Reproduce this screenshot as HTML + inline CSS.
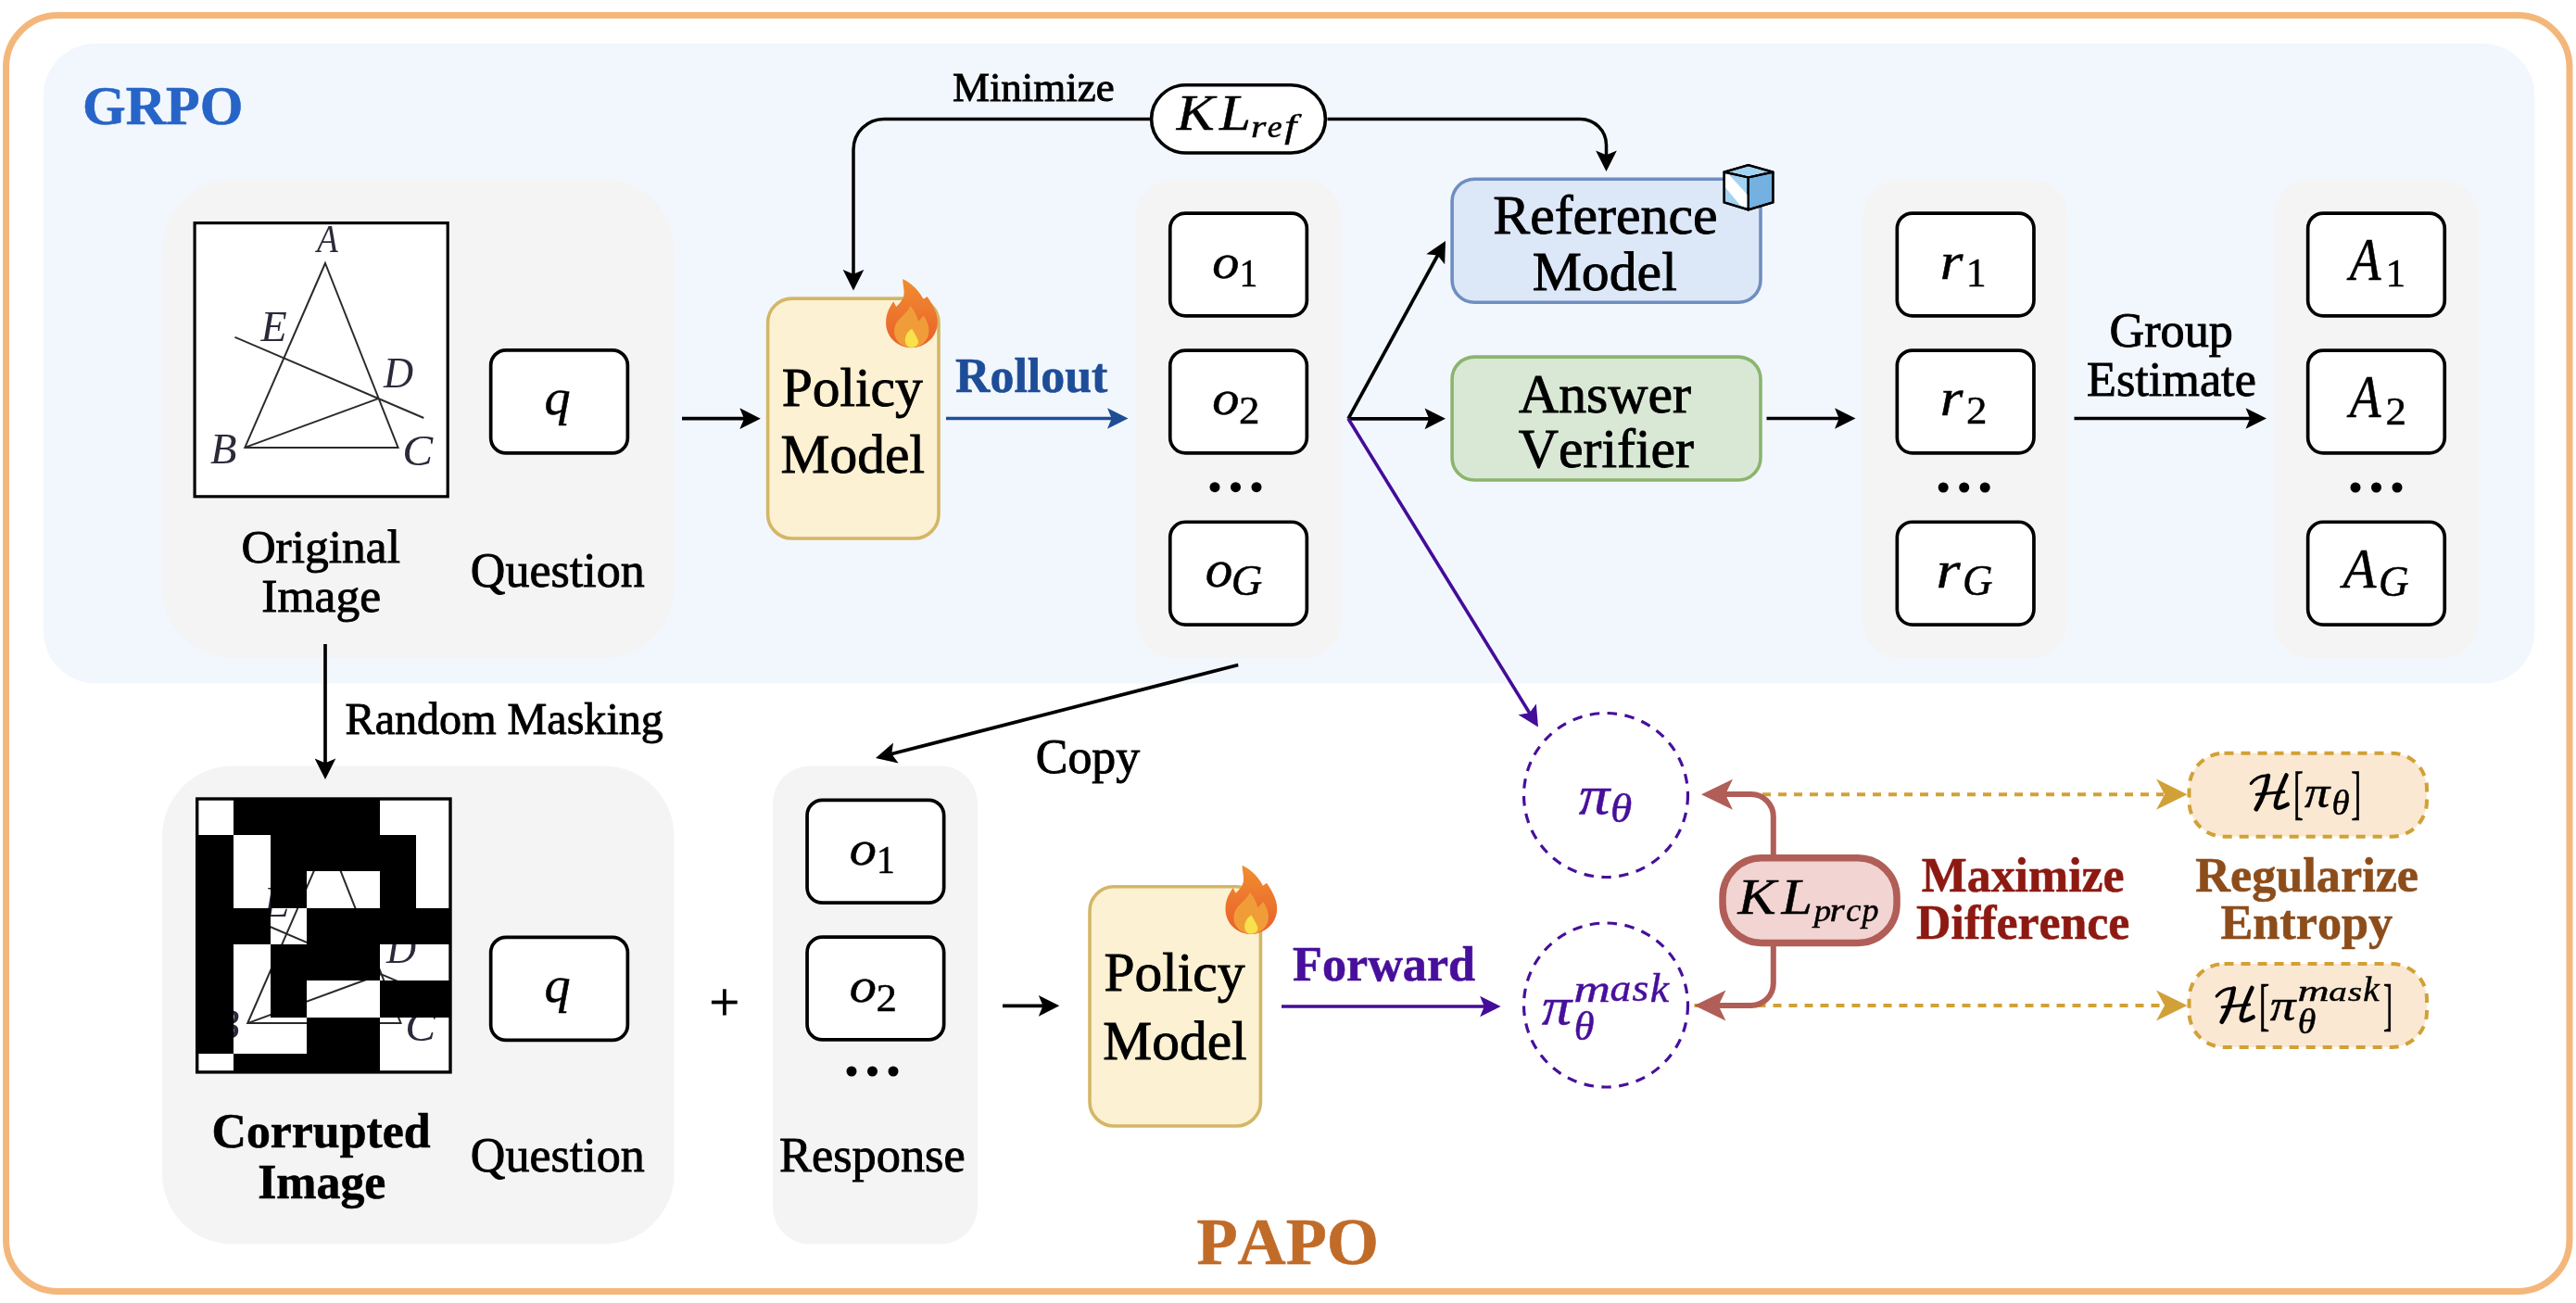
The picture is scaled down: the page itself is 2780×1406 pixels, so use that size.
<!DOCTYPE html>
<html><head><meta charset="utf-8"><style>
html,body{margin:0;padding:0;background:#fff;}
svg{display:block;will-change:transform;}
text{font-family:"Liberation Serif", serif;font-kerning:none;}
</style></head><body>
<svg width="2780" height="1406" viewBox="0 0 2780 1406">
<rect x="0" y="0" width="2780" height="1406" fill="#fff"/>
<rect x="6.50" y="16.50" width="2766.50" height="1377.00" rx="56.00" fill="none" stroke="#F4B77B" stroke-width="7" />
<rect x="47.00" y="47.00" width="2688.50" height="690.50" rx="56.00" fill="#F2F7FE"/>
<rect x="175.00" y="193.50" width="552.50" height="516.50" rx="76.00" fill="#F4F4F4"/>
<rect x="1226.00" y="193.50" width="221.50" height="516.50" rx="40.00" fill="#F4F4F4"/>
<rect x="2010.50" y="193.50" width="221.00" height="517.00" rx="40.00" fill="#F4F4F4"/>
<rect x="2453.50" y="193.50" width="221.50" height="517.00" rx="40.00" fill="#F4F4F4"/>
<rect x="175.00" y="826.50" width="552.50" height="516.00" rx="76.00" fill="#F4F4F4"/>
<rect x="834.00" y="826.50" width="221.00" height="516.00" rx="40.00" fill="#F4F4F4"/>
<text x="89.07" y="134.40" font-size="60.01" font-weight="bold" font-style="normal" fill="#2764C7" stroke="#2764C7" stroke-width="0.6" >GRPO</text>
<text x="1291.47" y="1364.00" font-size="72.22" font-weight="bold" font-style="normal" fill="#C16B29" stroke="#C16B29" stroke-width="0.6" >PAPO</text>
<rect x="210.10" y="240.60" width="273.10" height="295.20" rx="0.00" fill="#fff" stroke="#000" stroke-width="3.2" />
<g transform="translate(0.00,0.00)"><path d="M351,284 L264.3,482.9 L429.6,482.9 Z M264.3,482.9 L408.2,430.1 M253.5,363.8 L457.3,451" fill="none" stroke="#2a2a2a" stroke-width="2" stroke-linejoin="miter"/>
<text transform="matrix(0.3737 0 0 0.4272 342.04 271.70)" font-size="100" font-weight="normal" font-style="italic" fill="#2a2a3a" stroke="#2a2a3a" stroke-width="0.000">A</text>
<text transform="matrix(0.4617 0 0 0.4689 281.54 367.50)" font-size="100" font-weight="normal" font-style="italic" fill="#2a2a3a" stroke="#2a2a3a" stroke-width="0.000">E</text>
<text transform="matrix(0.4441 0 0 0.4690 414.10 417.71)" font-size="100" font-weight="normal" font-style="italic" fill="#2a2a3a" stroke="#2a2a3a" stroke-width="0.000">D</text>
<text transform="matrix(0.4658 0 0 0.4652 227.07 499.86)" font-size="100" font-weight="normal" font-style="italic" fill="#2a2a3a" stroke="#2a2a3a" stroke-width="0.000">B</text>
<text transform="matrix(0.4931 0 0 0.4677 434.26 501.57)" font-size="100" font-weight="normal" font-style="italic" fill="#2a2a3a" stroke="#2a2a3a" stroke-width="0.000">C</text>
</g>
<rect x="211.00" y="860.30" width="276.70" height="298.30" rx="0.00" fill="#fff"/>
<g transform="translate(2.90,621.20)"><path d="M351,284 L264.3,482.9 L429.6,482.9 Z M264.3,482.9 L408.2,430.1 M253.5,363.8 L457.3,451" fill="none" stroke="#2a2a2a" stroke-width="2" stroke-linejoin="miter"/>
<text transform="matrix(0.3737 0 0 0.4272 342.04 271.70)" font-size="100" font-weight="normal" font-style="italic" fill="#2a2a3a" stroke="#2a2a3a" stroke-width="0.000">A</text>
<text transform="matrix(0.4617 0 0 0.4689 281.54 367.50)" font-size="100" font-weight="normal" font-style="italic" fill="#2a2a3a" stroke="#2a2a3a" stroke-width="0.000">E</text>
<text transform="matrix(0.4441 0 0 0.4690 414.10 417.71)" font-size="100" font-weight="normal" font-style="italic" fill="#2a2a3a" stroke="#2a2a3a" stroke-width="0.000">D</text>
<text transform="matrix(0.4658 0 0 0.4652 227.07 499.86)" font-size="100" font-weight="normal" font-style="italic" fill="#2a2a3a" stroke="#2a2a3a" stroke-width="0.000">B</text>
<text transform="matrix(0.4931 0 0 0.4677 434.26 501.57)" font-size="100" font-weight="normal" font-style="italic" fill="#2a2a3a" stroke="#2a2a3a" stroke-width="0.000">C</text>
</g>
<rect x="252.31" y="862.00" width="39.30" height="39.08" fill="#000" shape-rendering="crispEdges"/>
<rect x="291.61" y="862.00" width="39.30" height="39.08" fill="#000" shape-rendering="crispEdges"/>
<rect x="330.91" y="862.00" width="39.30" height="39.08" fill="#000" shape-rendering="crispEdges"/>
<rect x="370.21" y="862.00" width="39.30" height="39.08" fill="#000" shape-rendering="crispEdges"/>
<rect x="213.01" y="901.08" width="39.30" height="39.30" fill="#000" shape-rendering="crispEdges"/>
<rect x="291.61" y="901.08" width="39.30" height="39.30" fill="#000" shape-rendering="crispEdges"/>
<rect x="330.91" y="901.08" width="39.30" height="39.30" fill="#000" shape-rendering="crispEdges"/>
<rect x="370.21" y="901.08" width="39.30" height="39.30" fill="#000" shape-rendering="crispEdges"/>
<rect x="409.51" y="901.08" width="39.30" height="39.30" fill="#000" shape-rendering="crispEdges"/>
<rect x="213.01" y="940.38" width="39.30" height="39.30" fill="#000" shape-rendering="crispEdges"/>
<rect x="291.61" y="940.38" width="39.30" height="39.30" fill="#000" shape-rendering="crispEdges"/>
<rect x="409.51" y="940.38" width="39.30" height="39.30" fill="#000" shape-rendering="crispEdges"/>
<rect x="213.01" y="979.68" width="39.30" height="39.30" fill="#000" shape-rendering="crispEdges"/>
<rect x="252.31" y="979.68" width="39.30" height="39.30" fill="#000" shape-rendering="crispEdges"/>
<rect x="330.91" y="979.68" width="39.30" height="39.30" fill="#000" shape-rendering="crispEdges"/>
<rect x="370.21" y="979.68" width="39.30" height="39.30" fill="#000" shape-rendering="crispEdges"/>
<rect x="409.51" y="979.68" width="39.30" height="39.30" fill="#000" shape-rendering="crispEdges"/>
<rect x="448.81" y="979.68" width="37.19" height="39.30" fill="#000" shape-rendering="crispEdges"/>
<rect x="213.01" y="1018.98" width="39.30" height="39.30" fill="#000" shape-rendering="crispEdges"/>
<rect x="291.61" y="1018.98" width="39.30" height="39.30" fill="#000" shape-rendering="crispEdges"/>
<rect x="330.91" y="1018.98" width="39.30" height="39.30" fill="#000" shape-rendering="crispEdges"/>
<rect x="370.21" y="1018.98" width="39.30" height="39.30" fill="#000" shape-rendering="crispEdges"/>
<rect x="213.01" y="1058.28" width="39.30" height="39.30" fill="#000" shape-rendering="crispEdges"/>
<rect x="291.61" y="1058.28" width="39.30" height="39.30" fill="#000" shape-rendering="crispEdges"/>
<rect x="409.51" y="1058.28" width="39.30" height="39.30" fill="#000" shape-rendering="crispEdges"/>
<rect x="448.81" y="1058.28" width="37.19" height="39.30" fill="#000" shape-rendering="crispEdges"/>
<rect x="213.01" y="1097.58" width="39.30" height="39.30" fill="#000" shape-rendering="crispEdges"/>
<rect x="330.91" y="1097.58" width="39.30" height="39.30" fill="#000" shape-rendering="crispEdges"/>
<rect x="370.21" y="1097.58" width="39.30" height="39.30" fill="#000" shape-rendering="crispEdges"/>
<rect x="252.31" y="1136.88" width="39.30" height="20.12" fill="#000" shape-rendering="crispEdges"/>
<rect x="291.61" y="1136.88" width="39.30" height="20.12" fill="#000" shape-rendering="crispEdges"/>
<rect x="330.91" y="1136.88" width="39.30" height="20.12" fill="#000" shape-rendering="crispEdges"/>
<rect x="370.21" y="1136.88" width="39.30" height="20.12" fill="#000" shape-rendering="crispEdges"/>
<rect x="212.70" y="862.00" width="273.30" height="294.90" rx="0.00" fill="none" stroke="#000" stroke-width="3.4" />
<rect x="529.65" y="377.85" width="147.70" height="111.10" rx="16.50" fill="#fff" stroke="#000" stroke-width="3.7" />
<rect x="529.65" y="1011.35" width="147.70" height="111.10" rx="16.50" fill="#fff" stroke="#000" stroke-width="3.7" />
<text transform="matrix(0.5616 0 0 0.5394 587.54 447.32)" font-size="100" font-weight="normal" font-style="italic" fill="#000" stroke="#000" stroke-width="0.908">q</text>
<text transform="matrix(0.5616 0 0 0.5394 587.54 1081.32)" font-size="100" font-weight="normal" font-style="italic" fill="#000" stroke="#000" stroke-width="0.908">q</text>
<text x="260.39" y="606.50" font-size="51.51" font-weight="normal" font-style="normal" fill="#000" stroke="#000" stroke-width="0.9" >Original</text>
<text x="282.37" y="660.00" font-size="51.51" font-weight="normal" font-style="normal" fill="#000" stroke="#000" stroke-width="0.9" >Image</text>
<text x="507.87" y="632.50" font-size="52.04" font-weight="normal" font-style="normal" fill="#000" stroke="#000" stroke-width="0.9" >Question</text>
<text x="507.87" y="1263.50" font-size="52.04" font-weight="normal" font-style="normal" fill="#000" stroke="#000" stroke-width="0.9" >Question</text>
<text x="228.47" y="1237.50" font-size="51.83" font-weight="bold" font-style="normal" fill="#000" stroke="#000" stroke-width="0.6" >Corrupted</text>
<text x="278.20" y="1292.50" font-size="51.83" font-weight="bold" font-style="normal" fill="#000" stroke="#000" stroke-width="0.6" >Image</text>
<text x="840.99" y="1263.50" font-size="52.39" font-weight="normal" font-style="normal" fill="#000" stroke="#000" stroke-width="0.9" >Response</text>
<text x="372.61" y="791.50" font-size="48.09" font-weight="normal" font-style="normal" fill="#000" stroke="#000" stroke-width="0.9" >Random Masking</text>
<text x="1117.87" y="833.75" font-size="51.84" font-weight="normal" font-style="normal" fill="#000" stroke="#000" stroke-width="0.9" >Copy</text>
<text x="1027.90" y="109.20" font-size="44.97" font-weight="normal" font-style="normal" fill="#000" stroke="#000" stroke-width="0.9" >Minimize</text>
<rect x="828.60" y="322.10" width="184.40" height="258.90" rx="26.00" fill="#FCF1D2" stroke="#D4B666" stroke-width="3.6" />
<rect x="1176.00" y="956.80" width="184.40" height="258.20" rx="26.00" fill="#FCF1D2" stroke="#D4B666" stroke-width="3.6" />
<text x="843.73" y="437.50" font-size="59.50" font-weight="normal" font-style="normal" fill="#000" stroke="#000" stroke-width="0.9" >Policy</text>
<text x="842.57" y="510.00" font-size="59.50" font-weight="normal" font-style="normal" fill="#000" stroke="#000" stroke-width="0.9" >Model</text>
<text x="1191.43" y="1068.80" font-size="59.50" font-weight="normal" font-style="normal" fill="#000" stroke="#000" stroke-width="0.9" >Policy</text>
<text x="1190.27" y="1142.60" font-size="59.50" font-weight="normal" font-style="normal" fill="#000" stroke="#000" stroke-width="0.9" >Model</text>
<g transform="translate(940.00,290.00) scale(1.0)">
<defs><linearGradient id="fg940" x1="0" y1="0" x2="0" y2="1"><stop offset="0" stop-color="#F08E30"/><stop offset="1" stop-color="#E95F2B"/></linearGradient></defs>
<path d="M34.2,11.1 C40,14 50,20 56.5,33 L60.6,30 C66,38 72,48 71.8,58 C71.5,74 58,85.2 43.7,85.2 C29,85.2 16.1,74 16.1,58 C16.1,48 20,42 24.2,35.3 L27.2,41 C31,37 36,33 35.6,25 C35.5,20 34,15 34.2,11.1 Z" fill="url(#fg940)"/>
<path d="M42.2,40 C47,45 50,52 51,56.8 L56.8,50.7 C60,55 62.5,61 62.5,67 C62.5,78 53,85 43.7,85 C33,85 25,77 25,68 C25,58 32,53 36,49 C39,46 41.5,43 42.2,40 Z" fill="#F09D39"/>
<path d="M44.1,64.8 C46,68 50,75 51,78 C51.5,82 48,84.8 43.7,84.8 C39,84.8 36.8,81 36.8,77 C36.8,72 40,67 44.1,64.8 Z" fill="#F8E14B"/>
</g>
<g transform="translate(1306.40,922.65) scale(1.0)">
<defs><linearGradient id="fg1306" x1="0" y1="0" x2="0" y2="1"><stop offset="0" stop-color="#F08E30"/><stop offset="1" stop-color="#E95F2B"/></linearGradient></defs>
<path d="M34.2,11.1 C40,14 50,20 56.5,33 L60.6,30 C66,38 72,48 71.8,58 C71.5,74 58,85.2 43.7,85.2 C29,85.2 16.1,74 16.1,58 C16.1,48 20,42 24.2,35.3 L27.2,41 C31,37 36,33 35.6,25 C35.5,20 34,15 34.2,11.1 Z" fill="url(#fg1306)"/>
<path d="M42.2,40 C47,45 50,52 51,56.8 L56.8,50.7 C60,55 62.5,61 62.5,67 C62.5,78 53,85 43.7,85 C33,85 25,77 25,68 C25,58 32,53 36,49 C39,46 41.5,43 42.2,40 Z" fill="#F09D39"/>
<path d="M44.1,64.8 C46,68 50,75 51,78 C51.5,82 48,84.8 43.7,84.8 C39,84.8 36.8,81 36.8,77 C36.8,72 40,67 44.1,64.8 Z" fill="#F8E14B"/>
</g>
<text x="1031.11" y="422.50" font-size="51.82" font-weight="bold" font-style="normal" fill="#1E4D98" stroke="#1E4D98" stroke-width="0.6" >Rollout</text>
<line x1="1021.00" y1="451.50" x2="1200.70" y2="451.50" stroke="#1E4D98" stroke-width="3.5" />
<path d="M1217.50,451.50 L1195.00,462.85 L1199.70,451.50 L1195.00,440.15 Z" fill="#1E4D98"/>
<text x="1395.11" y="1058.00" font-size="52.15" font-weight="bold" font-style="normal" fill="#470F9B" stroke="#470F9B" stroke-width="0.6" >Forward</text>
<line x1="1383.00" y1="1086.00" x2="1602.80" y2="1086.00" stroke="#440C99" stroke-width="3.6" />
<path d="M1619.60,1086.00 L1597.10,1097.35 L1601.80,1086.00 L1597.10,1074.65 Z" fill="#440C99"/>
<line x1="736.00" y1="451.70" x2="804.00" y2="451.70" stroke="#000" stroke-width="3.7" />
<path d="M820.80,451.70 L798.30,463.05 L803.00,451.70 L798.30,440.35 Z" fill="#000"/>
<line x1="1082.00" y1="1085.30" x2="1126.50" y2="1085.30" stroke="#000" stroke-width="3.7" />
<path d="M1143.30,1085.30 L1120.80,1096.65 L1125.50,1085.30 L1120.80,1073.95 Z" fill="#000"/>
<line x1="1906.50" y1="451.50" x2="1985.70" y2="451.50" stroke="#000" stroke-width="3.7" />
<path d="M2002.50,451.50 L1980.00,462.85 L1984.70,451.50 L1980.00,440.15 Z" fill="#000"/>
<line x1="2238.50" y1="451.50" x2="2429.20" y2="451.50" stroke="#000" stroke-width="3.7" />
<path d="M2446.00,451.50 L2423.50,462.85 L2428.20,451.50 L2423.50,440.15 Z" fill="#000"/>
<line x1="351.00" y1="695.00" x2="351.00" y2="824.20" stroke="#000" stroke-width="3.7" />
<path d="M351.00,841.00 L339.65,818.50 L351.00,823.20 L362.35,818.50 Z" fill="#000"/>
<line x1="1336.25" y1="717.50" x2="961.27" y2="813.82" stroke="#000" stroke-width="3.7" />
<path d="M945.00,818.00 L963.97,801.41 L962.24,813.57 L969.62,823.40 Z" fill="#000"/>
<path d="M1241,128.4 L954,128.4 A33,33 0 0 0 921,161.4 L921,300" fill="none" stroke="#000" stroke-width="3.5"/>
<path d="M921.00,313.60 L909.65,291.10 L921.00,295.80 L932.35,291.10 Z" fill="#000"/>
<path d="M1432.5,128.5 L1705,128.5 A28,28 0 0 1 1733.5,156.5 L1733.5,172" fill="none" stroke="#000" stroke-width="3.5"/>
<path d="M1733.50,185.00 L1722.15,162.50 L1733.50,167.20 L1744.85,162.50 Z" fill="#000"/>
<rect x="1242.60" y="91.80" width="187.80" height="73.20" rx="37.00" fill="#fff" stroke="#000" stroke-width="3.6" />
<text transform="matrix(0.6138 0 0 0.5452 1269.82 140.00)" font-size="100" font-weight="normal" font-style="italic" fill="#000" stroke="#000" stroke-width="0.863">K</text>
<text transform="matrix(0.6109 0 0 0.5452 1316.02 140.00)" font-size="100" font-weight="normal" font-style="italic" fill="#000" stroke="#000" stroke-width="0.865">L</text>
<text transform="matrix(0.4210 0 0 0.3459 1350.09 148.20)" font-size="100" font-weight="normal" font-style="italic" fill="#000" stroke="#000" stroke-width="1.304">r</text>
<text transform="matrix(0.3584 0 0 0.3389 1367.80 147.87)" font-size="100" font-weight="normal" font-style="italic" fill="#000" stroke="#000" stroke-width="1.434">e</text>
<text transform="matrix(0.4688 0 0 0.3675 1386.17 147.68)" font-size="100" font-weight="normal" font-style="italic" fill="#000" stroke="#000" stroke-width="1.196">f</text>
<rect x="1262.75" y="230.05" width="147.60" height="110.80" rx="16.50" fill="#fff" stroke="#000" stroke-width="3.7" />
<rect x="1262.75" y="378.05" width="147.60" height="110.80" rx="16.50" fill="#fff" stroke="#000" stroke-width="3.7" />
<rect x="1262.75" y="563.25" width="147.60" height="110.80" rx="16.50" fill="#fff" stroke="#000" stroke-width="3.7" />
<rect x="2047.35" y="230.05" width="147.60" height="110.80" rx="16.50" fill="#fff" stroke="#000" stroke-width="3.7" />
<rect x="2047.35" y="378.05" width="147.60" height="110.80" rx="16.50" fill="#fff" stroke="#000" stroke-width="3.7" />
<rect x="2047.35" y="563.25" width="147.60" height="110.80" rx="16.50" fill="#fff" stroke="#000" stroke-width="3.7" />
<rect x="2490.65" y="230.05" width="147.60" height="110.80" rx="16.50" fill="#fff" stroke="#000" stroke-width="3.7" />
<rect x="2490.65" y="378.05" width="147.60" height="110.80" rx="16.50" fill="#fff" stroke="#000" stroke-width="3.7" />
<rect x="2490.65" y="563.25" width="147.60" height="110.80" rx="16.50" fill="#fff" stroke="#000" stroke-width="3.7" />
<circle cx="1311.00" cy="525.7" r="5.5" fill="#000"/>
<circle cx="1333.50" cy="525.7" r="5.5" fill="#000"/>
<circle cx="1356.00" cy="525.7" r="5.5" fill="#000"/>
<circle cx="2097.20" cy="526" r="5.5" fill="#000"/>
<circle cx="2119.70" cy="526" r="5.5" fill="#000"/>
<circle cx="2142.20" cy="526" r="5.5" fill="#000"/>
<circle cx="2542.00" cy="526" r="5.5" fill="#000"/>
<circle cx="2564.50" cy="526" r="5.5" fill="#000"/>
<circle cx="2587.00" cy="526" r="5.5" fill="#000"/>
<rect x="871.05" y="863.35" width="147.60" height="110.80" rx="16.50" fill="#fff" stroke="#000" stroke-width="3.7" />
<rect x="871.05" y="1011.15" width="147.60" height="110.80" rx="16.50" fill="#fff" stroke="#000" stroke-width="3.7" />
<circle cx="919.00" cy="1156" r="5.5" fill="#000"/>
<circle cx="941.50" cy="1156" r="5.5" fill="#000"/>
<circle cx="964.00" cy="1156" r="5.5" fill="#000"/>
<text transform="matrix(0.5835 0 0 0.5385 1308.26 299.57)" font-size="100" font-weight="normal" font-style="italic" fill="#000" stroke="#000" stroke-width="0.891">o</text>
<text transform="matrix(0.3977 0 0 0.4196 1337.50 308.60)" font-size="100" font-weight="normal" font-style="normal" fill="#000" stroke="#000" stroke-width="1.224">1</text>
<text transform="matrix(0.5835 0 0 0.5385 1308.26 447.07)" font-size="100" font-weight="normal" font-style="italic" fill="#000" stroke="#000" stroke-width="0.891">o</text>
<text transform="matrix(0.4490 0 0 0.4214 1337.03 457.00)" font-size="100" font-weight="normal" font-style="normal" fill="#000" stroke="#000" stroke-width="1.149">2</text>
<text transform="matrix(0.5926 0 0 0.5718 1300.83 633.44)" font-size="100" font-weight="normal" font-style="italic" fill="#000" stroke="#000" stroke-width="0.859">o</text>
<text transform="matrix(0.4648 0 0 0.4665 1328.74 641.89)" font-size="100" font-weight="normal" font-style="italic" fill="#000" stroke="#000" stroke-width="1.074">G</text>
<text transform="matrix(0.5835 0 0 0.5385 916.76 933.07)" font-size="100" font-weight="normal" font-style="italic" fill="#000" stroke="#000" stroke-width="0.891">o</text>
<text transform="matrix(0.3977 0 0 0.4196 946.00 942.10)" font-size="100" font-weight="normal" font-style="normal" fill="#000" stroke="#000" stroke-width="1.224">1</text>
<text transform="matrix(0.5835 0 0 0.5385 916.76 1080.57)" font-size="100" font-weight="normal" font-style="italic" fill="#000" stroke="#000" stroke-width="0.891">o</text>
<text transform="matrix(0.4490 0 0 0.4214 945.53 1090.50)" font-size="100" font-weight="normal" font-style="normal" fill="#000" stroke="#000" stroke-width="1.149">2</text>
<text transform="matrix(0.6343 0 0 0.5794 2093.83 300.60)" font-size="100" font-weight="normal" font-style="italic" fill="#000" stroke="#000" stroke-width="0.824">r</text>
<text transform="matrix(0.4374 0 0 0.4408 2121.66 309.20)" font-size="100" font-weight="normal" font-style="normal" fill="#000" stroke="#000" stroke-width="1.139">1</text>
<text transform="matrix(0.6343 0 0 0.5794 2093.83 448.10)" font-size="100" font-weight="normal" font-style="italic" fill="#000" stroke="#000" stroke-width="0.824">r</text>
<text transform="matrix(0.4490 0 0 0.4320 2122.03 456.90)" font-size="100" font-weight="normal" font-style="normal" fill="#000" stroke="#000" stroke-width="1.135">2</text>
<text transform="matrix(0.6713 0 0 0.5794 2089.58 633.50)" font-size="100" font-weight="normal" font-style="italic" fill="#000" stroke="#000" stroke-width="0.800">r</text>
<text transform="matrix(0.4493 0 0 0.4591 2117.92 641.70)" font-size="100" font-weight="normal" font-style="italic" fill="#000" stroke="#000" stroke-width="1.101">G</text>
<text transform="matrix(0.5516 0 0 0.6468 2535.72 302.40)" font-size="100" font-weight="normal" font-style="italic" fill="#000" stroke="#000" stroke-width="0.834">A</text>
<text transform="matrix(0.4346 0 0 0.4135 2574.38 309.20)" font-size="100" font-weight="normal" font-style="normal" fill="#000" stroke="#000" stroke-width="1.179">1</text>
<text transform="matrix(0.5516 0 0 0.6468 2535.72 449.90)" font-size="100" font-weight="normal" font-style="italic" fill="#000" stroke="#000" stroke-width="0.834">A</text>
<text transform="matrix(0.4490 0 0 0.4168 2574.53 457.70)" font-size="100" font-weight="normal" font-style="normal" fill="#000" stroke="#000" stroke-width="1.155">2</text>
<text transform="matrix(0.5875 0 0 0.6211 2528.41 633.50)" font-size="100" font-weight="normal" font-style="italic" fill="#000" stroke="#000" stroke-width="0.827">A</text>
<text transform="matrix(0.4508 0 0 0.4591 2567.11 643.40)" font-size="100" font-weight="normal" font-style="italic" fill="#000" stroke="#000" stroke-width="1.099">G</text>
<rect x="1567.10" y="193.30" width="332.90" height="132.90" rx="24.00" fill="#DCE7F8" stroke="#6F8EC0" stroke-width="3.6" />
<rect x="1567.10" y="385.10" width="332.90" height="132.90" rx="24.00" fill="#D9E8D5" stroke="#8BB56E" stroke-width="3.6" />
<text x="1611.28" y="252.00" font-size="59.79" font-weight="normal" font-style="normal" fill="#000" stroke="#000" stroke-width="0.9" >Reference</text>
<text x="1653.68" y="312.50" font-size="59.79" font-weight="normal" font-style="normal" fill="#000" stroke="#000" stroke-width="0.9" >Model</text>
<text x="1638.98" y="444.50" font-size="59.79" font-weight="normal" font-style="normal" fill="#000" stroke="#000" stroke-width="0.9" >Answer</text>
<text x="1638.82" y="504.00" font-size="59.79" font-weight="normal" font-style="normal" fill="#000" stroke="#000" stroke-width="0.9" >Verifier</text>
<g stroke="#000" stroke-width="2.3" stroke-linejoin="round">
<path d="M1886.8,178.1 L1913.4,185.6 L1886.8,191.5 L1860.7,185.6 Z" fill="#A3D3F1"/>
<path d="M1860.7,185.6 L1886.8,191.5 L1886.8,226.4 L1860.7,218.4 Z" fill="#A3D3F1"/>
<path d="M1913.4,185.6 L1913.4,218.4 L1886.8,226.4 L1886.8,191.5 Z" fill="#74B0E0"/>
</g>
<path d="M1861.8,187.5 L1866,188.5 L1885.6,210 L1885.6,223.8 L1878,221.5 L1861.8,202 Z" fill="#fff"/>
<path d="M1886.8,178.1 L1913.4,185.6 L1886.8,191.5 L1860.7,185.6 Z M1860.7,185.6 L1886.8,191.5 L1886.8,226.4 L1860.7,218.4 Z M1913.4,185.6 L1913.4,218.4 L1886.8,226.4 L1886.8,191.5 Z" fill="none" stroke="#000" stroke-width="2.3" stroke-linejoin="round"/>
<line x1="1455.00" y1="451.80" x2="1551.93" y2="274.74" stroke="#000" stroke-width="3.7" />
<path d="M1560.00,260.00 L1559.15,285.19 L1551.45,275.61 L1539.24,274.29 Z" fill="#000"/>
<line x1="1455.00" y1="451.80" x2="1543.20" y2="451.80" stroke="#000" stroke-width="3.7" />
<path d="M1560.00,451.80 L1537.50,463.15 L1542.20,451.80 L1537.50,440.45 Z" fill="#000"/>
<line x1="1455.00" y1="451.80" x2="1651.19" y2="770.20" stroke="#440C99" stroke-width="3.6" />
<path d="M1660.00,784.50 L1638.53,771.30 L1650.66,769.35 L1657.86,759.39 Z" fill="#440C99"/>
<text x="2252.10" y="427.00" font-size="52.22" font-weight="normal" font-style="normal" fill="#000" stroke="#000" stroke-width="0.9" >Estimate</text>
<text x="2276.43" y="374.00" font-size="52.22" font-weight="normal" font-style="normal" fill="#000" stroke="#000" stroke-width="0.9" >Group</text>
<circle cx="1733" cy="858" r="88.5" fill="none" stroke="#470F9B" stroke-width="3.2" stroke-dasharray="10.5 8.5"/>
<circle cx="1733" cy="1084.5" r="88.5" fill="none" stroke="#470F9B" stroke-width="3.2" stroke-dasharray="10.5 8.5"/>
<text transform="matrix(0.6711 0 0 0.5995 1703.64 878.11)" font-size="100" font-weight="normal" font-style="italic" fill="#470F9B" stroke="#470F9B" stroke-width="0.787">π</text>
<text transform="matrix(0.4726 0 0 0.4429 1738.09 886.57)" font-size="100" font-weight="normal" font-style="italic" fill="#470F9B" stroke="#470F9B" stroke-width="1.092">θ</text>
<text transform="matrix(0.6460 0 0 0.5760 1663.65 1105.44)" font-size="100" font-weight="normal" font-style="italic" fill="#470F9B" stroke="#470F9B" stroke-width="0.818">π</text>
<text transform="matrix(0.5512 0 0 0.4266 1698.31 1080.80)" font-size="100" font-weight="normal" font-style="italic" fill="#470F9B" stroke="#470F9B" stroke-width="1.023">m</text>
<text transform="matrix(0.4554 0 0 0.4179 1737.54 1080.37)" font-size="100" font-weight="normal" font-style="italic" fill="#470F9B" stroke="#470F9B" stroke-width="1.145">a</text>
<text transform="matrix(0.4586 0 0 0.4179 1761.54 1080.39)" font-size="100" font-weight="normal" font-style="italic" fill="#470F9B" stroke="#470F9B" stroke-width="1.141">s</text>
<text transform="matrix(0.4585 0 0 0.4439 1780.78 1080.80)" font-size="100" font-weight="normal" font-style="italic" fill="#470F9B" stroke="#470F9B" stroke-width="1.108">k</text>
<text transform="matrix(0.4440 0 0 0.4387 1698.83 1121.77)" font-size="100" font-weight="normal" font-style="italic" fill="#470F9B" stroke="#470F9B" stroke-width="1.133">θ</text>
<line x1="1902" y1="857.2" x2="2335" y2="857.2" stroke="#D1A137" stroke-width="4" stroke-dasharray="9 8"/>
<line x1="1828.5" y1="1085" x2="2335" y2="1085" stroke="#D1A137" stroke-width="4" stroke-dasharray="9 8"/>
<path d="M2360.50,857.20 L2327.00,873.80 L2336.00,857.20 L2327.00,840.60 Z" fill="#D1A137"/>
<path d="M2360.50,1085.00 L2327.00,1101.60 L2336.00,1085.00 L2327.00,1068.40 Z" fill="#D1A137"/>
<rect x="2362.50" y="812.70" width="256.50" height="90.00" rx="38.00" fill="#FBE8D3" stroke="#D1A137" stroke-width="4" stroke-dasharray="10 8"/>
<rect x="2362.50" y="1040.00" width="256.50" height="90.00" rx="38.00" fill="#FBE8D3" stroke="#D1A137" stroke-width="4" stroke-dasharray="10 8"/>
<g transform="translate(2428.20,836.00)" fill="none" stroke="#000" stroke-linecap="round"><path d="M1,9.5 C6,3.5 13,0.5 19.5,1.2" stroke-width="3"/><path d="M19.5,1.2 C17.5,14 12.5,28 6.8,37" stroke-width="5"/><path d="M7,21.2 L36.5,18.6" stroke-width="3"/><path d="M39.3,0.5 C34,12 29,24 27.8,31.5 C27,37 31,37 40.5,32" stroke-width="4.6"/></g>
<text transform="matrix(0.3234 0 0 0.6295 2475.00 876.08)" font-size="100" font-weight="normal" font-style="normal" fill="#000" stroke="#000" stroke-width="1.049">[</text>
<text transform="matrix(0.5438 0 0 0.4843 2486.91 871.23)" font-size="100" font-weight="normal" font-style="italic" fill="#000" stroke="#000" stroke-width="0.973">π</text>
<text transform="matrix(0.3891 0 0 0.3738 2516.40 879.43)" font-size="100" font-weight="normal" font-style="italic" fill="#000" stroke="#000" stroke-width="1.311">θ</text>
<text transform="matrix(0.3279 0 0 0.6295 2537.22 876.08)" font-size="100" font-weight="normal" font-style="normal" fill="#000" stroke="#000" stroke-width="1.045">]</text>
<g transform="translate(2391.10,1065.50)" fill="none" stroke="#000" stroke-linecap="round"><path d="M1,9.5 C6,3.5 13,0.5 19.5,1.2" stroke-width="3"/><path d="M19.5,1.2 C17.5,14 12.5,28 6.8,37" stroke-width="5"/><path d="M7,21.2 L36.5,18.6" stroke-width="3"/><path d="M39.3,0.5 C34,12 29,24 27.8,31.5 C27,37 31,37 40.5,32" stroke-width="4.6"/></g>
<text transform="matrix(0.3458 0 0 0.6186 2437.63 1105.12)" font-size="100" font-weight="normal" font-style="normal" fill="#000" stroke="#000" stroke-width="1.037">[</text>
<text transform="matrix(0.5515 0 0 0.4928 2449.70 1101.02)" font-size="100" font-weight="normal" font-style="italic" fill="#000" stroke="#000" stroke-width="0.958">π</text>
<text transform="matrix(0.4736 0 0 0.3056 2479.49 1080.00)" font-size="100" font-weight="normal" font-style="italic" fill="#000" stroke="#000" stroke-width="1.283">m</text>
<text transform="matrix(0.3906 0 0 0.2994 2513.14 1079.69)" font-size="100" font-weight="normal" font-style="italic" fill="#000" stroke="#000" stroke-width="1.449">a</text>
<text transform="matrix(0.3952 0 0 0.2994 2533.72 1079.71)" font-size="100" font-weight="normal" font-style="italic" fill="#000" stroke="#000" stroke-width="1.440">s</text>
<text transform="matrix(0.3933 0 0 0.3747 2550.27 1080.00)" font-size="100" font-weight="normal" font-style="italic" fill="#000" stroke="#000" stroke-width="1.302">k</text>
<text transform="matrix(0.3986 0 0 0.3738 2479.65 1115.23)" font-size="100" font-weight="normal" font-style="italic" fill="#000" stroke="#000" stroke-width="1.295">θ</text>
<text transform="matrix(0.3054 0 0 0.6186 2571.90 1105.12)" font-size="100" font-weight="normal" font-style="normal" fill="#000" stroke="#000" stroke-width="1.082">]</text>
<path d="M1913.8,922 L1913.8,881 A24,24 0 0 0 1889.8,857 L1860,857" fill="none" stroke="#B05E57" stroke-width="6"/>
<path d="M1836.00,857.20 L1870.00,840.70 L1862.00,857.20 L1870.00,873.70 Z" fill="#B05E57"/>
<path d="M1913.8,1021 L1913.8,1061 A24,24 0 0 1 1889.8,1085 L1852,1085" fill="none" stroke="#B05E57" stroke-width="6"/>
<path d="M1828.50,1085.00 L1862.50,1068.50 L1854.50,1085.00 L1862.50,1101.50 Z" fill="#B05E57"/>
<rect x="1859.05" y="925.75" width="188.00" height="91.70" rx="42.00" fill="#F2D4D2" stroke="#B05E57" stroke-width="7.5" />
<text transform="matrix(0.6180 0 0 0.5452 1875.42 986.00)" font-size="100" font-weight="normal" font-style="italic" fill="#000" stroke="#000" stroke-width="0.860">K</text>
<text transform="matrix(0.6033 0 0 0.5452 1922.61 986.00)" font-size="100" font-weight="normal" font-style="italic" fill="#000" stroke="#000" stroke-width="0.871">L</text>
<text transform="matrix(0.3672 0 0 0.3435 1957.65 993.69)" font-size="100" font-weight="normal" font-style="italic" fill="#000" stroke="#000" stroke-width="1.407">p</text>
<text transform="matrix(0.4153 0 0 0.3565 1974.52 994.00)" font-size="100" font-weight="normal" font-style="italic" fill="#000" stroke="#000" stroke-width="1.296">r</text>
<text transform="matrix(0.3629 0 0 0.3576 1992.28 994.05)" font-size="100" font-weight="normal" font-style="italic" fill="#000" stroke="#000" stroke-width="1.388">c</text>
<text transform="matrix(0.3596 0 0 0.3479 2009.61 993.59)" font-size="100" font-weight="normal" font-style="italic" fill="#000" stroke="#000" stroke-width="1.413">p</text>
<text x="2068.09" y="1013.30" font-size="51.84" font-weight="bold" font-style="normal" fill="#8C1A12" stroke="#8C1A12" stroke-width="0.6" >Difference</text>
<text x="2073.83" y="962.00" font-size="51.84" font-weight="bold" font-style="normal" fill="#8C1A12" stroke="#8C1A12" stroke-width="0.6" >Maximize</text>
<text x="2369.31" y="962.00" font-size="52.23" font-weight="bold" font-style="normal" fill="#8C4D1B" stroke="#8C4D1B" stroke-width="0.6" >Regularize</text>
<text x="2396.44" y="1013.30" font-size="52.23" font-weight="bold" font-style="normal" fill="#8C4D1B" stroke="#8C4D1B" stroke-width="0.6" >Entropy</text>
<rect x="767.9" y="1079.6" width="27.8" height="3.8" fill="#000"/><rect x="780" y="1067.3" width="3.8" height="28.2" fill="#000"/>
</svg></body></html>
